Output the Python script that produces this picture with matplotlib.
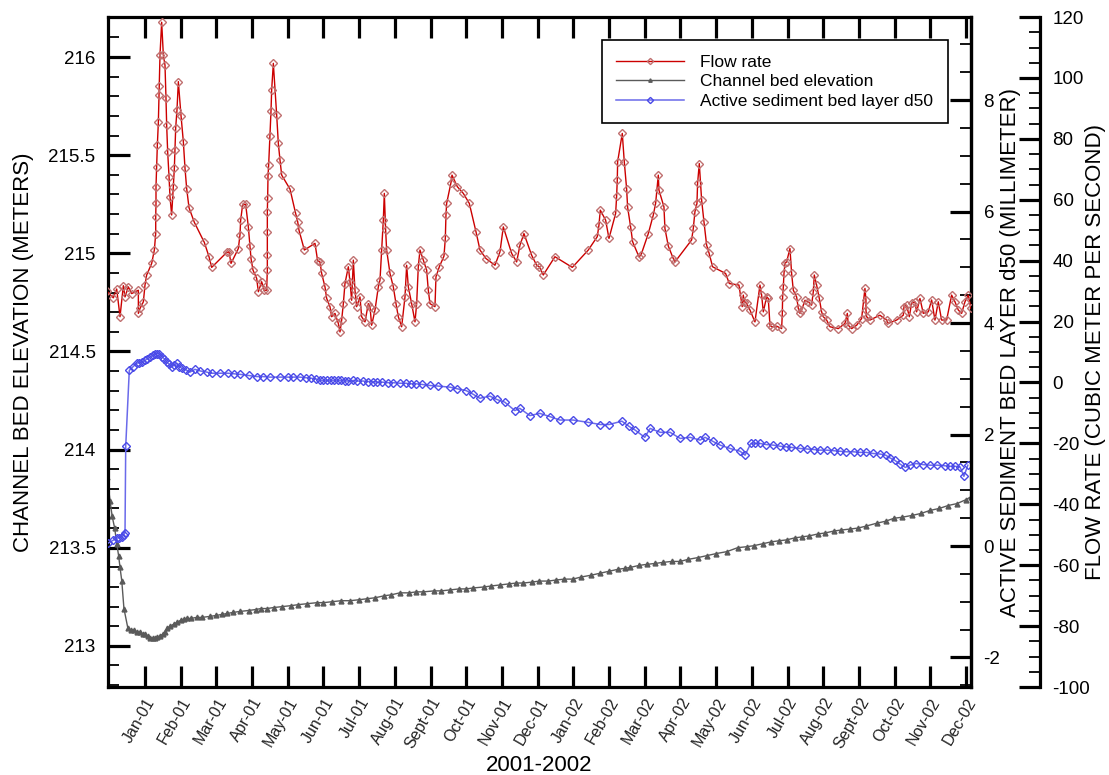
import numpy as np
import matplotlib
matplotlib.use("Agg")
import matplotlib.pyplot as plt
from matplotlib.ticker import MultipleLocator, FuncFormatter

plt.rcParams['font.family'] = ['Liberation Sans', 'DejaVu Sans']

# --- Data (x = months since Jan-01, Jan-01 = 0) ---
month_labels = ['Jan-01', 'Feb-01', 'Mar-01', 'Apr-01', 'May-01', 'Jun-01', 'Jul-01', 'Aug-01',
                'Sept-01', 'Oct-01', 'Nov-01', 'Dec-01', 'Jan-02', 'Feb-02', 'Mar-02', 'Apr-02',
                'May-02', 'Jun-02', 'Jul-02', 'Aug-02', 'Sept-02', 'Oct-02', 'Nov-02', 'Dec-02']

flow_month = [-1.07, -0.887, -0.793, -0.70, -0.607, -0.56, -0.467, -0.373, -0.186, -0.186, -0.14, -0.046,
              0.0, 0.047, 0.187, 0.262, 0.30, 0.30, 0.308, 0.308, 0.327, 0.346, 0.374, 0.393, 0.402, 0.42,
              0.467, 0.514, 0.56, 0.588, 0.607, 0.635, 0.673, 0.70, 0.747, 0.794, 0.822, 0.84, 0.86, 0.896,
              0.934, 1.009, 1.074, 1.121, 1.167, 1.233, 1.382, 1.662, 1.793, 1.868, 2.288, 2.353, 2.41,
              2.615, 2.66, 2.68, 2.736, 2.82, 2.895, 2.94, 2.97, 3.025, 3.128, 3.175, 3.268, 3.343, 3.408,
              3.427, 3.427, 3.427, 3.427, 3.436, 3.446, 3.464, 3.50, 3.53, 3.548, 3.595, 3.689, 3.735,
              3.782, 3.829, 4.062, 4.22, 4.277, 4.314, 4.464, 4.762, 4.837,
              4.902, 4.949, 5.042, 5.089, 5.182, 5.229, 5.322, 5.416, 5.462, 5.509, 5.556, 5.602, 5.696,
              5.742, 5.789, 5.836, 5.882, 5.929, 6.022, 6.069, 6.163, 6.256, 6.303, 6.349, 6.443, 6.536,
              6.583, 6.63, 6.676, 6.704, 6.741, 6.769, 6.863, 6.956, 7.031, 7.096, 7.19, 7.283, 7.33,
              7.376, 7.47, 7.563, 7.61, 7.656, 7.703, 7.796, 7.89, 7.936, 7.983, 8.123, 8.151, 8.245,
              8.375, 8.413, 8.431, 8.45, 8.571, 8.6, 8.749, 8.917, 9.085, 9.272, 9.384, 9.552, 9.804,
              9.944, 10.037, 10.271, 10.411, 10.504, 10.616, 10.831, 10.971, 11.046,
              11.157, 11.484, 11.97, 12.418, 12.67, 12.717, 12.754, 12.904, 12.997, 13.184, 13.212,
              13.23, 13.24, 13.37, 13.426, 13.491, 13.52, 13.604, 13.66, 13.837, 13.893, 14.099, 14.239,
              14.304, 14.379, 14.397, 14.537, 14.565, 14.659, 14.799, 14.846, 15.313, 15.359, 15.406,
              15.462, 15.48, 15.527, 15.593, 15.658, 15.733, 15.798, 15.901, 16.265, 16.368, 16.638,
              16.73, 16.76, 16.788, 16.853,
              16.947, 17.087, 17.227, 17.274, 17.32, 17.414, 17.46, 17.507, 17.554, 17.694, 17.834,
              17.853, 17.862, 17.881, 17.9, 17.927, 17.974, 18.067, 18.114, 18.161, 18.254, 18.301,
              18.348, 18.394, 18.488, 18.581, 18.674, 18.721, 18.749, 18.814, 18.889, 18.954, 19.001,
              19.095, 19.188, 19.421, 19.608, 19.674, 19.701, 19.795, 19.935, 20.075, 20.168, 20.196,
              20.196, 20.215, 20.308, 20.588, 20.775, 20.822, 21.055, 21.242, 21.261, 21.335, 21.41,
              21.475, 21.569, 21.615, 21.709, 21.802, 21.942, 22.036, 22.129, 22.222, 22.316, 22.456,
              22.596, 22.69, 22.783, 22.876, 22.97, 23.063, 23.138]
flow_cms = [30.0, 27.8, 30.7, 21.6, 31.8, 28.1, 31.4, 29.2, 30.3, 22.7, 24.3, 26.5,
            32.0, 35.3, 39.1, 43.5, 48.9, 54.4, 58.8, 64.3, 70.8, 78.0, 85.4, 94.4, 97.4, 107.5,
            118.3, 107.5, 104.2, 93.3, 84.5, 75.8, 67.6, 61.0, 55.0, 64.3, 70.3, 76.3, 83.7, 89.5,
            98.8, 87.6, 79.1, 70.3, 63.7, 57.4, 52.6, 46.0, 41.3, 37.8, 42.7, 42.9, 39.1,
            44.0, 48.4, 53.3, 58.5, 58.5, 51.1, 44.9, 40.7, 36.9, 34.2, 29.8, 33.1, 30.3, 30.3,
            36.9, 41.8, 49.5, 56.1, 60.7, 67.8, 71.4, 81.0, 89.2, 96.0, 104.8, 87.8, 78.5,
            73.0, 68.1, 63.5, 55.5, 52.8, 50.0, 43.5, 45.7, 39.9,
            39.6, 35.8, 31.4, 27.6, 24.9, 21.6, 22.7, 19.4, 16.6, 20.5, 25.9, 32.5, 38.0,
            33.1, 27.0, 40.2, 30.3, 24.9, 28.1, 21.6, 19.9, 25.9, 24.9, 18.8, 23.8, 31.4,
            33.6, 43.5, 53.3, 62.1, 50.0, 43.5, 35.8, 31.4, 25.9, 21.6, 18.3, 28.1, 38.5,
            31.4, 25.9, 19.9, 25.9, 38.0, 43.5, 40.2, 36.9, 30.3, 25.9, 24.9, 34.7, 38.0,
            41.5, 47.3, 55.0, 58.8, 65.6, 68.1, 64.3, 62.1, 58.8, 49.5, 43.5, 40.7, 38.5,
            42.9, 51.1, 42.4, 39.6, 45.1, 48.9, 41.8, 38.5, 38.0,
            35.3, 41.3, 37.8, 43.5, 47.9, 51.7, 56.6, 53.3, 47.3, 55.5, 61.2,
            66.5, 72.5, 81.8, 72.5, 63.7, 57.5, 51.1, 46.2, 41.3, 41.8, 48.9, 55.0,
            58.8, 68.1, 63.2, 57.7, 50.6, 44.8, 40.7, 39.6, 46.8, 50.6, 56.1,
            58.8, 65.4, 71.9, 59.9, 52.8, 45.1, 42.6, 38.0, 35.8, 32.5, 32.0,
            24.9, 28.7, 26.5, 26.0,
            23.8, 19.9, 32.0, 28.7, 23.2, 28.1, 27.6, 18.8, 18.3, 18.5, 17.7,
            22.7, 28.1, 31.4, 35.8, 39.1, 39.6, 44.0, 35.8, 30.3, 28.1, 24.3,
            22.7, 23.8, 27.0, 26.5, 25.4, 29.8, 35.3, 32.0, 27.6, 23.2, 21.6,
            20.5, 18.3, 17.7, 19.4, 22.7, 18.8, 17.7, 18.8, 21.0, 30.9, 27.1,
            23.8, 21.6, 20.5, 22.1, 20.5, 19.4, 20.5, 22.1, 24.9, 25.4, 21.6,
            26.0, 26.5, 23.2, 27.6, 22.7, 23.2, 27.1, 20.5, 26.5, 20.5, 20.5,
            28.7, 26.5, 23.8, 22.7, 26.5, 28.7, 24.3]

# (month, elevation in m)
bed_points = [(-1.06, 213.86), (-0.98, 213.74), (-0.92, 213.66), (-0.85, 213.60), (-0.79, 213.52),
              (-0.74, 213.46), (-0.70, 213.40), (-0.65, 213.33), (-0.59, 213.19), (-0.48, 213.09),
              (-0.40, 213.08), (-0.30, 213.08), (-0.22, 213.07), (-0.14, 213.07), (-0.05, 213.06),
              (0.0, 213.06), (0.08, 213.05), (0.14, 213.04), (0.22, 213.04), (0.28, 213.04),
              (0.35, 213.045), (0.42, 213.05), (0.50, 213.06), (0.56, 213.07), (0.63, 213.09),
              (0.70, 213.10), (0.80, 213.11), (0.90, 213.12), (1.0, 213.13), (1.08, 213.135),
              (1.17, 213.14), (1.30, 213.14), (1.45, 213.145), (1.6, 213.145), (1.82, 213.15),
              (2.0, 213.155), (2.15, 213.16), (2.3, 213.165), (2.46, 213.17), (2.65, 213.175),
              (2.9, 213.18), (3.1, 213.185), (3.25, 213.19), (3.42, 213.19), (3.6, 213.195),
              (3.85, 213.2), (4.1, 213.205), (4.3, 213.21), (4.55, 213.215), (4.82, 213.22),
              (5.0, 213.22), (5.25, 213.225), (5.5, 213.23), (5.75, 213.23), (6.0, 213.235),
              (6.22, 213.24), (6.45, 213.245), (6.7, 213.255), (6.9, 213.26), (7.14, 213.27),
              (7.4, 213.27), (7.6, 213.275), (7.8, 213.275), (8.1, 213.28), (8.3, 213.28),
              (8.54, 213.285), (8.8, 213.29), (9.0, 213.29), (9.2, 213.295), (9.5, 213.3),
              (9.7, 213.305), (9.94, 213.31), (10.2, 213.315), (10.4, 213.32), (10.6, 213.32),
              (10.85, 213.325), (11.05, 213.33), (11.3, 213.33), (11.5, 213.335), (11.75, 213.34),
              (11.99, 213.34), (12.2, 213.35), (12.5, 213.36), (12.75, 213.37), (13.0, 213.38),
              (13.25, 213.39), (13.45, 213.395), (13.6, 213.40), (13.85, 213.41), (14.05, 213.415),
              (14.3, 213.42), (14.5, 213.425), (14.75, 213.43), (14.99, 213.43), (15.2, 213.44),
              (15.5, 213.45), (15.75, 213.46), (16.0, 213.47), (16.3, 213.48), (16.6, 213.50),
              (16.85, 213.505), (17.05, 213.51), (17.3, 213.52), (17.55, 213.53), (17.75, 213.535),
              (17.98, 213.54), (18.2, 213.55), (18.4, 213.555), (18.6, 213.56), (18.85, 213.57),
              (19.05, 213.575), (19.3, 213.585), (19.5, 213.59), (19.75, 213.595), (19.97, 213.60),
              (20.2, 213.61), (20.5, 213.625), (20.75, 213.635), (20.98, 213.65), (21.2, 213.655),
              (21.5, 213.665), (21.75, 213.675), (21.99, 213.69), (22.25, 213.70), (22.5, 213.715),
              (22.75, 213.725), (23.0, 213.745), (23.14, 213.76)]

# (month, d50 in mm)
d50_points = [(-1.04, 0.05), (-0.90, 0.10), (-0.79, 0.14), (-0.72, 0.15), (-0.65, 0.17),
              (-0.60, 0.20), (-0.56, 0.24), (-0.54, 1.79), (-0.44, 3.15), (-0.33, 3.22),
              (-0.23, 3.28), (-0.16, 3.29), (-0.09, 3.30), (0.0, 3.33), (0.07, 3.36), (0.14, 3.39),
              (0.22, 3.42), (0.28, 3.44), (0.33, 3.45), (0.40, 3.45), (0.47, 3.40), (0.54, 3.36),
              (0.61, 3.30), (0.68, 3.26), (0.75, 3.21), (0.82, 3.25), (0.89, 3.28), (0.96, 3.22),
              (1.03, 3.19), (1.15, 3.16), (1.26, 3.12), (1.40, 3.17), (1.55, 3.14), (1.73, 3.12),
              (1.87, 3.10), (2.1, 3.10), (2.33, 3.10), (2.5, 3.09), (2.66, 3.08), (2.9, 3.06),
              (3.13, 3.04), (3.3, 3.04), (3.5, 3.03), (3.78, 3.03), (4.0, 3.03), (4.15, 3.03),
              (4.34, 3.03), (4.5, 3.02), (4.65, 3.01), (4.78, 3.0), (4.90, 2.97), (5.0, 2.97),
              (5.1, 2.97), (5.2, 2.97), (5.3, 2.97), (5.4, 2.97), (5.5, 2.97), (5.6, 2.96),
              (5.7, 2.96), (5.83, 2.97), (5.95, 2.96), (6.1, 2.96), (6.25, 2.95), (6.4, 2.95),
              (6.5, 2.94), (6.65, 2.94), (6.8, 2.93), (6.95, 2.93), (7.14, 2.92), (7.3, 2.92),
              (7.45, 2.91), (7.6, 2.91), (7.75, 2.90), (7.98, 2.88), (8.2, 2.87), (8.54, 2.85),
              (8.75, 2.82), (8.99, 2.79), (9.2, 2.72), (9.38, 2.65), (9.66, 2.69), (9.85, 2.63),
              (10.08, 2.58), (10.36, 2.43), (10.50, 2.47), (10.78, 2.34), (11.06, 2.38),
              (11.35, 2.32), (11.62, 2.26), (11.99, 2.26), (12.4, 2.22), (12.75, 2.18), (13.0, 2.18),
              (13.36, 2.24), (13.55, 2.15), (13.73, 2.08), (14.0, 1.95), (14.15, 2.11), (14.43, 2.04),
              (14.71, 2.04), (14.99, 1.93), (15.27, 1.95), (15.55, 1.90), (15.69, 1.95),
              (15.9, 1.88), (16.11, 1.81), (16.39, 1.75), (16.67, 1.70), (16.81, 1.63),
              (16.97, 1.84), (17.1, 1.84), (17.23, 1.84), (17.4, 1.82), (17.6, 1.81), (17.79, 1.79),
              (17.95, 1.78), (18.1, 1.77), (18.35, 1.75), (18.55, 1.74), (18.75, 1.73),
              (18.91, 1.72), (19.1, 1.72), (19.3, 1.71), (19.47, 1.70), (19.65, 1.69), (19.85, 1.69),
              (20.03, 1.68), (20.2, 1.68), (20.4, 1.66), (20.59, 1.65), (20.75, 1.63), (20.87, 1.58),
              (21.0, 1.54), (21.15, 1.47), (21.3, 1.41), (21.43, 1.45), (21.6, 1.48), (21.8, 1.46),
              (21.99, 1.45), (22.2, 1.45), (22.4, 1.44), (22.55, 1.43), (22.7, 1.43), (22.83, 1.42),
              (22.94, 1.25), (23.05, 1.45)]

bed_month = [p[0] for p in bed_points]
bed_elev = [p[1] for p in bed_points]
d50_month = [p[0] for p in d50_points]
d50_mm = [p[1] for p in d50_points]

# --- Figure ---
fig = plt.figure(figsize=(11.09, 7.75), dpi=100)
ax = fig.add_axes([0.0974, 0.1135, 0.7782, 0.8645])
ax2 = ax.twinx()
ax3 = ax.twinx()
ax3.spines['right'].set_position(('axes', 1.080))

lw_spine = 2.3
for a in (ax, ax2, ax3):
    for s in a.spines.values():
        s.set_linewidth(lw_spine)
for s in ('left', 'top', 'bottom'):
    ax2.spines[s].set_visible(False)
    ax3.spines[s].set_visible(False)

l_bed, = ax.plot(bed_month, bed_elev, color='#5a5a5a', lw=1, marker='^', ms=3.5,
                 mfc='#5a5a5a', mec='#5a5a5a', label='Channel bed elevation')
l_d50, = ax2.plot(d50_month, d50_mm, color='#6a6aea', lw=1.1, marker='D', ms=4.5,
                  mfc='none', mec='#4a4ae8', mew=1, label='Active sediment bed layer d50')
l_flow, = ax3.plot(flow_month, flow_cms, color='#cc0000', lw=1, marker='D', ms=4.5,
                   mfc='none', mec='#c07070', mew=1, label='Flow rate')

ax.set_xlim(-1.036, 23.14)
ax.set_ylim(212.79, 216.204)
ax2.set_ylim(-2.53, 9.49)
ax3.set_ylim(-100, 120)

fmt = FuncFormatter(lambda v, p: f'{v:g}')
ax.yaxis.set_major_locator(MultipleLocator(0.5))
ax.yaxis.set_minor_locator(MultipleLocator(0.1))
ax.yaxis.set_major_formatter(fmt)
ax2.yaxis.set_major_locator(MultipleLocator(2))
ax2.yaxis.set_minor_locator(MultipleLocator(0.5))
ax2.yaxis.set_major_formatter(fmt)
ax3.yaxis.set_major_locator(MultipleLocator(20))
ax3.yaxis.set_minor_locator(MultipleLocator(5))
ax3.yaxis.set_major_formatter(fmt)

ax.set_xticks(range(len(month_labels)))
ax.set_xticklabels(month_labels)
ax.tick_params(axis='x', which='major', direction='in', top=True, length=15, width=2.3,
               labelsize=11.5, pad=6, labelcolor='#222222')
plt.setp(ax.get_xticklabels(), rotation=60, ha='right', rotation_mode='anchor')

ax.tick_params(axis='y', which='major', direction='in', right=False, length=16, width=2.3,
               labelsize=13.5, pad=9)
ax.tick_params(axis='y', which='minor', direction='in', right=False, length=8, width=1.3)
for a in (ax2, ax3):
    a.tick_params(axis='y', which='major', direction='in', length=15, width=2.3,
                  labelsize=13.5, pad=9)
    a.tick_params(axis='y', which='minor', direction='in', length=8, width=1.3)

ax.set_xlabel('2001-2002', fontsize=16)
ax.xaxis.set_label_coords(0.5, -0.102)
ax.set_ylabel('CHANNEL BED ELEVATION (METERS)', fontsize=16)
ax.yaxis.set_label_coords(-0.086, 0.5)
ax2.set_ylabel('ACTIVE SEDIMENT BED LAYER d50 (MILLIMETER)', fontsize=16)
ax2.yaxis.set_label_coords(1.034, 0.5)
ax3.set_ylabel('FLOW RATE (CUBIC METER PER SECOND)', fontsize=16)
ax3.yaxis.set_label_coords(1.132, 0.5)

leg = ax3.legend(handles=[l_flow, l_bed, l_d50], loc='upper left', bbox_to_anchor=(0.572, 0.966),
                 borderaxespad=0, fontsize=12.5, handlelength=3.9, handletextpad=0.9,
                 labelspacing=0.25, borderpad=0.85, numpoints=1, markerscale=0.7,
                 fancybox=False, framealpha=1, edgecolor='black')
leg.get_frame().set_linewidth(1.2)

fig.savefig('out.png', dpi=100)
